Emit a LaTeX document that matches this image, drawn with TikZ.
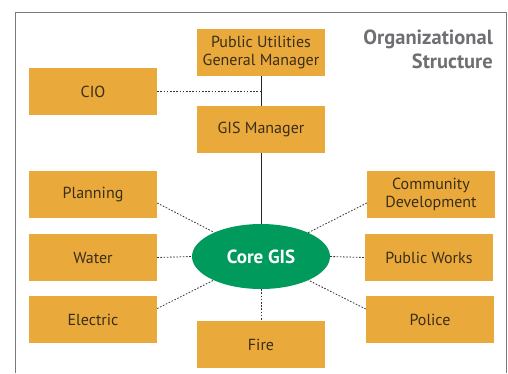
\documentclass[tikz,border=0pt]{standalone}
\usepackage{fontspec}
\setmainfont{PT Sans}
\usetikzlibrary{shapes.geometric}
\definecolor{boxfill}{HTML}{E9A93B}
\definecolor{boxtext}{HTML}{3A2E1A}
\definecolor{coregreen}{HTML}{009A5C}
\definecolor{framegray}{HTML}{7A7A7A}
\definecolor{titlegray}{HTML}{6E6F72}
\begin{document}
\begin{tikzpicture}[x=1pt,y=-1pt,
  unit/.style={fill=boxfill, text=boxtext, minimum width=128pt, minimum height=47pt,
    inner sep=0pt, align=center, font=\fontsize{16}{17.5}\selectfont},
  hub/.style={ellipse, fill=coregreen, text=white, minimum width=138pt, minimum height=65pt,
    inner sep=0pt, font=\fontsize{19}{21}\selectfont\bfseries},
  solidlink/.style={draw=black!85, line width=0.8pt},
  dotlink/.style={draw=black!80, line width=0.8pt, dash pattern=on 1.6pt off 1.6pt}]
\useasboundingbox (0,0) rectangle (508,373);
% outer frame, open at the bottom
\draw[framegray, line width=1pt] (15,373) -- (15,12) -- (506,12) -- (506,373);
% title
\node[anchor=north east, align=right, text=titlegray, inner sep=0pt,
  font=\fontsize{20.5}{24.5}\selectfont\bfseries] (title) at (493,29.5) {Organizational\\Structure};
% management chain
\node[unit] (pugm) at (261,52.5) {Public Utilities\\General Manager};
\node[unit] (cio) at (93,91.5) {CIO};
\node[unit] (gism) at (261,129.5) {GIS Manager};
\node[hub] (core) at (261,256.5) {Core GIS};
% departments
\node[unit] (plan) at (93,194.5) {Planning};
\node[unit] (water) at (93,257.5) {Water};
\node[unit] (elec) at (93,319.5) {Electric};
\node[unit] (fire) at (261,344.5) {Fire};
\node[unit] (comm) at (431,194.5) {Community\\Development};
\node[unit] (pubw) at (429,257.5) {Public Works};
\node[unit] (police) at (430,319.5) {Police};
% reporting lines
\coordinate (junction) at (pugm.south |- cio.east);
\draw[solidlink] (pugm.south) -- (gism.north);
\draw[solidlink] (gism.south) -- (core.north);
\draw[dotlink] (cio.east) -- (junction);
% links to the core
\draw[dotlink] ([yshift=-8.5pt]plan.east) -- (core);
\draw[dotlink] ([yshift=-8.5pt]comm.west) -- (core);
\draw[dotlink] (water.east) -- (core.west);
\draw[dotlink] (core.east) -- (pubw.west);
\draw[dotlink] ([yshift=11pt]elec.east) -- (core);
\draw[dotlink] ([yshift=10.5pt]police.west) -- (core);
\draw[dotlink] (core.south) -- (fire.north);
\end{tikzpicture}
\end{document}
